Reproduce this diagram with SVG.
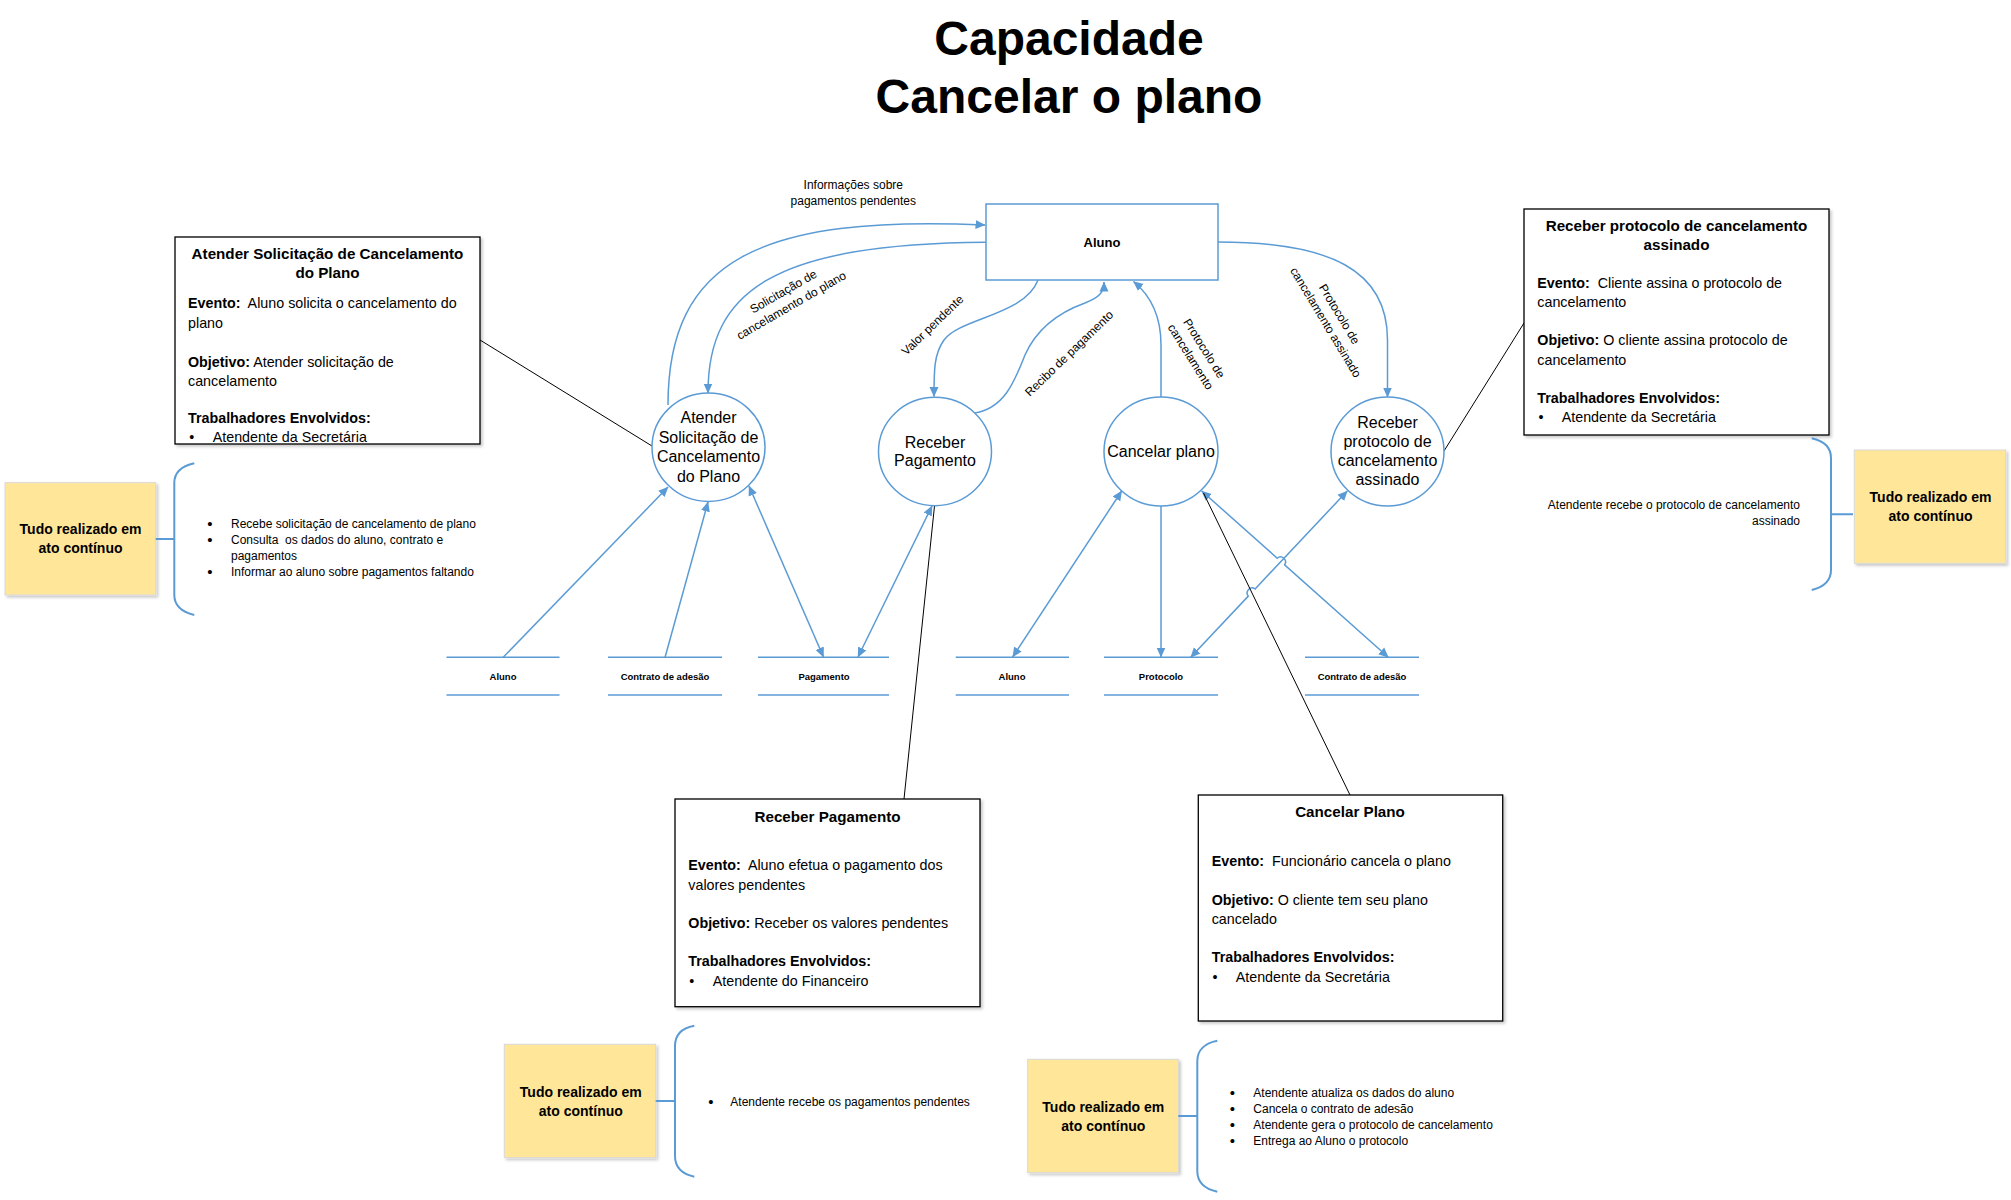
<svg xmlns="http://www.w3.org/2000/svg" width="2011" height="1200" viewBox="0 0 2011 1200">
<defs>
<marker id="arrow" viewBox="0 0 10 10" refX="9.5" refY="5" markerWidth="10" markerHeight="10" markerUnits="userSpaceOnUse" orient="auto-start-reverse"><path d="M0,0.5 L10,5 L0,9.5 Z" fill="#5B9BD5"/></marker>
<filter id="shadow" x="-5%" y="-5%" width="115%" height="115%"><feDropShadow dx="2" dy="2" stdDeviation="1.5" flood-color="#000" flood-opacity="0.22"/></filter>
</defs>
<style>
.title{font-family:"Liberation Sans",Arial,sans-serif;font-weight:bold;font-size:48px;text-anchor:middle;fill:#000}
.flow{fill:none;stroke:#5B9BD5;stroke-width:1.5}
.arrowed{marker-end:url(#arrow)}
.both{marker-start:url(#arrow);marker-end:url(#arrow)}
.proc{fill:#fff;stroke:#5B9BD5;stroke-width:1.5}
.ptext{font-family:"Liberation Sans",Arial,sans-serif;font-size:16px;text-anchor:middle;fill:#000}
.ent{fill:#fff;stroke:#5B9BD5;stroke-width:1.5}
.store{stroke:#5B9BD5;stroke-width:1.5}
.stext{font-family:"Liberation Sans",Arial,sans-serif;font-weight:bold;font-size:9.5px;text-anchor:middle;fill:#000}
.lbl{font-family:"Liberation Sans",Arial,sans-serif;font-size:12px;text-anchor:middle;fill:#000}
.note{fill:none;stroke:#000;stroke-width:1}
.card{fill:#fff;stroke:#000;stroke-width:1.3;filter:url(#shadow)}
.ctitle{font-family:"Liberation Sans",Arial,sans-serif;font-weight:bold;font-size:15.2px;text-anchor:middle;fill:#000}
.cbody{font-family:"Liberation Sans",Arial,sans-serif;font-size:14.3px;fill:#000}
.b{font-weight:bold}
.sticky{fill:#FFE699;stroke:#D9D9D9;stroke-width:1;filter:url(#shadow)}
.sttext{font-family:"Liberation Sans",Arial,sans-serif;font-weight:bold;font-size:14px;text-anchor:middle;fill:#000}
.brace{fill:none;stroke:#5B9BD5;stroke-width:2}
.small{font-family:"Liberation Sans",Arial,sans-serif;font-size:12px;fill:#000}
.dot{font-family:"Liberation Sans",Arial,sans-serif;font-size:15px;text-anchor:middle;fill:#000}
</style>
<rect width="2011" height="1200" fill="#fff"/>

<g id="title">
<text class="title" x="1069" y="55">Capacidade</text>
<text class="title" x="1069" y="113">Cancelar o plano</text>
</g>

<g id="connectors">
<path class="flow arrowed" d="M668 405 C668 260 760 215 985 225"/>
<path class="flow arrowed" d="M985.7 242.3 C775 244 708 290 708 393"/>
<path class="flow arrowed" d="M1038 280 C1025 315 960 318 944 340 C934 354 934 370 934 396.5"/>
<path class="flow arrowed" d="M975 413 C1005 408 1015 380 1025 355 C1037 328 1060 312 1085 303 C1100 297 1104 292 1104 282"/>
<path class="flow arrowed" d="M1161 397 L1161 345 C1161 315 1150 295 1133.5 281.5"/>
<path class="flow arrowed" d="M1218 242 C1330 242 1387.5 270 1387.5 340 L1387.5 397"/>
<path class="flow arrowed" d="M503 657.5 L668 487"/>
<path class="flow arrowed" d="M665 657.5 L708 502"/>
<path class="flow both" d="M749 486 L823.5 657"/>
<path class="flow both" d="M932 506 L858 657"/>
<path class="flow both" d="M1121.7 491 L1012.7 657"/>
<path class="flow arrowed" d="M1161 506 L1161 657"/>
<path class="flow both" d="M1201.7 491 L1277.2 558.2 A5 5 0 0 1 1284.6 564.8 L1388.3 657.3"/>
<path class="flow both" d="M1347.3 491 L1255.1 588.9 A5 5 0 0 0 1248.3 596.1 L1190.7 657.3"/>
<path class="note" d="M480 340 L652 446"/>
<path class="note" d="M934.5 506 L904 799"/>
<path class="note" d="M1203.5 493 L1350 795"/>
<path class="note" d="M1444 451 L1524 323"/>
</g>

<g id="flow-labels">
<text class="lbl" x="853.3" y="188.5">Informações sobre</text>
<text class="lbl" x="853.3" y="204.5">pagamentos pendentes</text>
<g transform="translate(787.3 298.3) rotate(-30)">
<text class="lbl" x="0" y="-3.8">Solicitação de</text>
<text class="lbl" x="0" y="12.2">cancelamento do plano</text>
</g>
<text class="lbl" transform="translate(932.3 325) rotate(-44)" x="0" y="4.2">Valor pendente</text>
<text class="lbl" transform="translate(1069 353.3) rotate(-44)" x="0" y="4.2">Recibo de pagamento</text>
<g transform="translate(1197.5 352.5) rotate(58)">
<text class="lbl" x="0" y="-3.8">Protocolo de</text>
<text class="lbl" x="0" y="12.2">cancelamento</text>
</g>
<g transform="translate(1332.7 318.2) rotate(59)">
<text class="lbl" x="0" y="-3.8">Protocolo de</text>
<text class="lbl" x="0" y="12.2">cancelamento assinado</text>
</g>
</g>

<g id="entity-aluno">
<rect class="ent" x="986" y="204" width="232" height="76"/>
<text x="1102" y="246.5" style="font-family:'Liberation Sans',Arial,sans-serif;font-weight:bold;font-size:13px;text-anchor:middle">Aluno</text>
</g>

<g id="proc-atender">
<ellipse class="proc" cx="708.5" cy="447.2" rx="56.5" ry="54.2"/>
<text class="ptext" x="708.5" y="423">Atender</text>
<text class="ptext" x="708.5" y="442.5">Solicitação de</text>
<text class="ptext" x="708.5" y="462">Cancelamento</text>
<text class="ptext" x="708.5" y="481.5">do Plano</text>
</g>
<g id="proc-receber-pagamento">
<ellipse class="proc" cx="935" cy="451.5" rx="56.5" ry="54.2"/>
<text class="ptext" x="935" y="447.5">Receber</text>
<text class="ptext" x="935" y="466">Pagamento</text>
</g>
<g id="proc-cancelar">
<ellipse class="proc" cx="1161" cy="451.5" rx="57" ry="54.5"/>
<text class="ptext" x="1161" y="456.5">Cancelar plano</text>
</g>
<g id="proc-receber-protocolo">
<ellipse class="proc" cx="1387.5" cy="451.5" rx="56.5" ry="54.5"/>
<text class="ptext" x="1387.5" y="427.5">Receber</text>
<text class="ptext" x="1387.5" y="446.5">protocolo de</text>
<text class="ptext" x="1387.5" y="465.5">cancelamento</text>
<text class="ptext" x="1387.5" y="484.5">assinado</text>
</g>

<g id="store-aluno-1">
<line class="store" x1="446.5" y1="657.3" x2="559.5" y2="657.3"/>
<line class="store" x1="446.5" y1="695" x2="559.5" y2="695"/>
<text class="stext" x="503" y="680">Aluno</text>
</g>
<g id="store-contrato-1">
<line class="store" x1="608" y1="657.3" x2="722" y2="657.3"/>
<line class="store" x1="608" y1="695" x2="722" y2="695"/>
<text class="stext" x="665" y="680">Contrato de adesão</text>
</g>
<g id="store-pagamento">
<line class="store" x1="758" y1="657.3" x2="889" y2="657.3"/>
<line class="store" x1="758" y1="695" x2="889" y2="695"/>
<text class="stext" x="824" y="680">Pagamento</text>
</g>
<g id="store-aluno-2">
<line class="store" x1="955.7" y1="657.3" x2="1069" y2="657.3"/>
<line class="store" x1="955.7" y1="695" x2="1069" y2="695"/>
<text class="stext" x="1012" y="680">Aluno</text>
</g>
<g id="store-protocolo">
<line class="store" x1="1104" y1="657.3" x2="1218" y2="657.3"/>
<line class="store" x1="1104" y1="695" x2="1218" y2="695"/>
<text class="stext" x="1161" y="680">Protocolo</text>
</g>
<g id="store-contrato-2">
<line class="store" x1="1305" y1="657.3" x2="1419" y2="657.3"/>
<line class="store" x1="1305" y1="695" x2="1419" y2="695"/>
<text class="stext" x="1362" y="680">Contrato de adesão</text>
</g>

<g id="card-atender">
<rect class="card" x="175" y="237" width="305" height="207"/>
<text class="ctitle" x="327.5" y="259">Atender Solicitação de Cancelamento</text>
<text class="ctitle" x="327.5" y="277.5">do Plano</text>
<text class="cbody" x="188" y="308"><tspan class="b">Evento:</tspan>&#160; Aluno solicita o cancelamento do</text>
<text class="cbody" x="188" y="327.5">plano</text>
<text class="cbody" x="188" y="366.5"><tspan class="b">Objetivo:</tspan> Atender solicitação de</text>
<text class="cbody" x="188" y="385.5">cancelamento</text>
<text class="cbody b" x="188" y="423">Trabalhadores Envolvidos:</text>
<text class="cbody" x="191.7" y="442" text-anchor="middle">•</text>
<text class="cbody" x="212.7" y="442">Atendente da Secretária</text>
</g>

<g id="card-receber-protocolo">
<rect class="card" x="1524" y="209" width="305" height="226"/>
<text class="ctitle" x="1676.5" y="230.5">Receber protocolo de cancelamento</text>
<text class="ctitle" x="1676.5" y="249.5">assinado</text>
<text class="cbody" x="1537.3" y="287.5"><tspan class="b">Evento:</tspan>&#160; Cliente assina o protocolo de</text>
<text class="cbody" x="1537.3" y="306.5">cancelamento</text>
<text class="cbody" x="1537.3" y="345"><tspan class="b">Objetivo:</tspan> O cliente assina protocolo de</text>
<text class="cbody" x="1537.3" y="364.5">cancelamento</text>
<text class="cbody b" x="1537.3" y="402.5">Trabalhadores Envolvidos:</text>
<text class="cbody" x="1541" y="422" text-anchor="middle">•</text>
<text class="cbody" x="1561.7" y="422">Atendente da Secretária</text>
</g>

<g id="card-receber-pagamento">
<rect class="card" x="675" y="799" width="305" height="207.7"/>
<text class="ctitle" x="827.5" y="821.5">Receber Pagamento</text>
<text class="cbody" x="688.3" y="869.5"><tspan class="b">Evento:</tspan>&#160; Aluno efetua o pagamento dos</text>
<text class="cbody" x="688.3" y="889.5">valores pendentes</text>
<text class="cbody" x="688.3" y="927.5"><tspan class="b">Objetivo:</tspan> Receber os valores pendentes</text>
<text class="cbody b" x="688.3" y="966">Trabalhadores Envolvidos:</text>
<text class="cbody" x="691.7" y="985.5" text-anchor="middle">•</text>
<text class="cbody" x="712.7" y="985.5">Atendente do Financeiro</text>
</g>

<g id="card-cancelar">
<rect class="card" x="1198.3" y="795" width="304.4" height="226"/>
<text class="ctitle" x="1350" y="817">Cancelar Plano</text>
<text class="cbody" x="1211.7" y="866"><tspan class="b">Evento:</tspan>&#160; Funcionário cancela o plano</text>
<text class="cbody" x="1211.7" y="904.5"><tspan class="b">Objetivo:</tspan> O cliente tem seu plano</text>
<text class="cbody" x="1211.7" y="923.5">cancelado</text>
<text class="cbody b" x="1211.7" y="962">Trabalhadores Envolvidos:</text>
<text class="cbody" x="1215" y="982" text-anchor="middle">•</text>
<text class="cbody" x="1235.7" y="982">Atendente da Secretária</text>
</g>

<g id="note-atender">
<rect class="sticky" x="5" y="482.7" width="150.7" height="112.3"/>
<text class="sttext" x="80.5" y="534.3">Tudo realizado em</text>
<text class="sttext" x="80.5" y="553.3">ato contínuo</text>
<path class="brace" d="M155.7 539 H174.3 M194.3 463.3 C182 466 174.3 472 174.3 483 V595 C174.3 606 182 612 194.3 615"/>
<text class="dot" x="210" y="529">•</text>
<text class="small" x="231" y="528">Recebe solicitação de cancelamento de plano</text>
<text class="dot" x="210" y="545">•</text>
<text class="small" x="231" y="544">Consulta&#160; os dados do aluno, contrato e</text>
<text class="small" x="231" y="560">pagamentos</text>
<text class="dot" x="210" y="576.5">•</text>
<text class="small" x="231" y="575.5">Informar ao aluno sobre pagamentos faltando</text>
</g>

<g id="note-receber-protocolo">
<rect class="sticky" x="1854.3" y="450" width="151.4" height="113.3"/>
<text class="sttext" x="1930.5" y="501.7">Tudo realizado em</text>
<text class="sttext" x="1930.5" y="521">ato contínuo</text>
<path class="brace" d="M1853 514.3 H1831 M1811.7 438.3 C1824 441 1831 447 1831 458 V570 C1831 581 1824 587 1811.7 590"/>
<text class="small" x="1800" y="508.5" text-anchor="end">Atendente recebe o protocolo de cancelamento</text>
<text class="small" x="1800" y="524.5" text-anchor="end">assinado</text>
</g>

<g id="note-receber-pagamento">
<rect class="sticky" x="504.3" y="1044.3" width="151.4" height="113.4"/>
<text class="sttext" x="580.8" y="1096.7">Tudo realizado em</text>
<text class="sttext" x="580.8" y="1115.7">ato contínuo</text>
<path class="brace" d="M655.7 1101 H675 M694.3 1025.7 C682 1028 675 1035 675 1046 V1156 C675 1167 682 1174 694.3 1176.7"/>
<text class="dot" x="711" y="1106.5">•</text>
<text class="small" x="730.3" y="1105.5">Atendente recebe os pagamentos pendentes</text>
</g>

<g id="note-cancelar">
<rect class="sticky" x="1027.7" y="1059.3" width="150.6" height="113.4"/>
<text class="sttext" x="1103.3" y="1111.7">Tudo realizado em</text>
<text class="sttext" x="1103.3" y="1130.7">ato contínuo</text>
<path class="brace" d="M1178.3 1116 H1197.3 M1217.3 1040.7 C1205 1043 1197.3 1050 1197.3 1061 V1171 C1197.3 1182 1205 1189 1217.3 1191.7"/>
<text class="dot" x="1232.3" y="1098">•</text>
<text class="small" x="1253.3" y="1097">Atendente atualiza os dados do aluno</text>
<text class="dot" x="1232.3" y="1114">•</text>
<text class="small" x="1253.3" y="1113">Cancela o contrato de adesão</text>
<text class="dot" x="1232.3" y="1130">•</text>
<text class="small" x="1253.3" y="1129">Atendente gera o protocolo de cancelamento</text>
<text class="dot" x="1232.3" y="1145.5">•</text>
<text class="small" x="1253.3" y="1144.5">Entrega ao Aluno o protocolo</text>
</g>
</svg>
